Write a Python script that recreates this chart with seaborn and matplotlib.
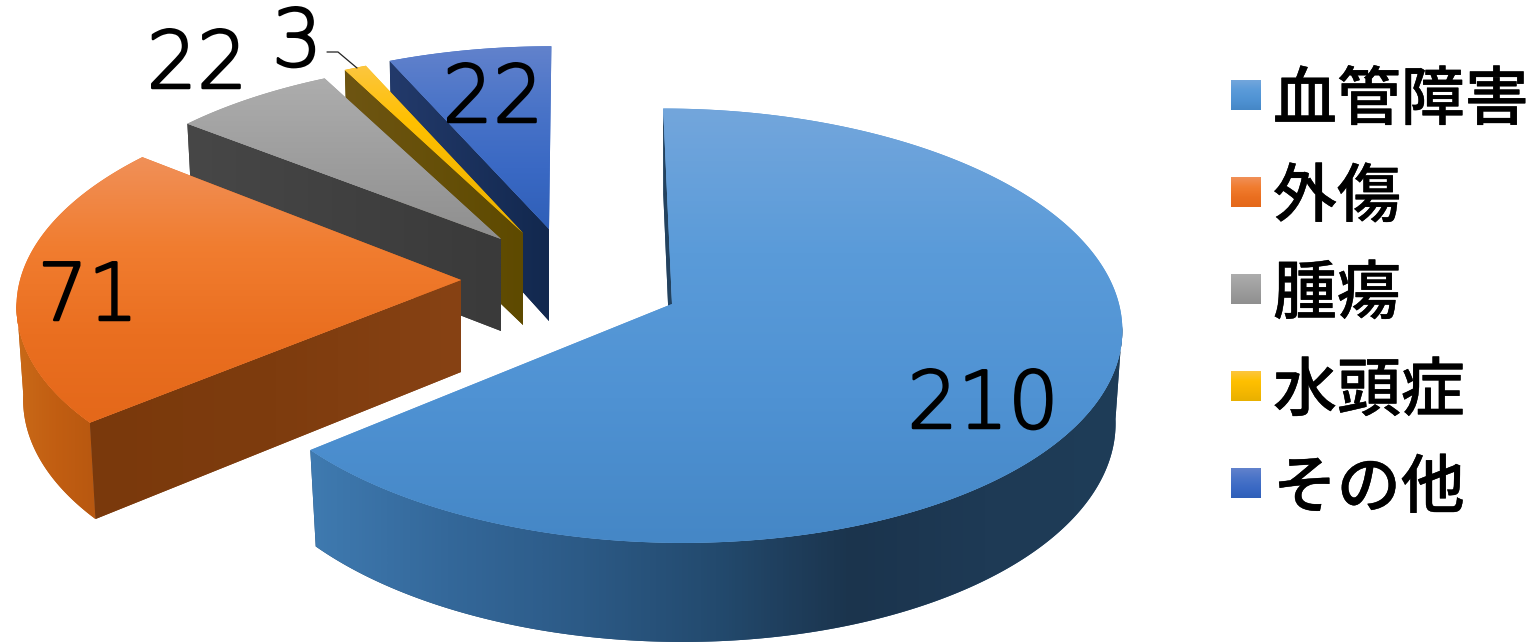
import numpy as np
import matplotlib
matplotlib.use("Agg")
import matplotlib.pyplot as plt
import matplotlib.patheffects as pe
from matplotlib.patches import Polygon
import seaborn as sns

# Chart data
categories = ["血管障害", "外傷", "腫瘍", "水頭症", "その他"]
values = [210, 71, 22, 3, 22]

# Slice placement on the canvas (exploded pie, pixels)
apex_x = [672, 461, 501, 523, 549]
apex_y = [304, 280, 239, 233, 229]
radius_x = [447, 441, 431, 431, 431]
radius_y = [215, 210, 197, 200, 201]
label_x = [983, 88, 197, 297, 493]
label_y = [406, 298, 66, 44, 100]

# Colours: top face, outer wall, cut wall
top_colors = [
    ["#73a6dc", "#5a9bd9", "#4f92d3", "#4587c6"],
    ["#f09058", "#f17d30", "#ea6f20", "#e4681a"],
    ["#adadad", "#a3a3a3", "#999999", "#8f8f8f"],
    ["#fcc640", "#ffc000", "#f5b800", "#e8b000"],
    ["#6282cc", "#4a74c8", "#3a69c4", "#2f5fb8"],
]
wall_colors = [
    ["#3f7ab0", "#34689a", "#2c5a86", "#234a6e", "#1b344d", "#1e3a55", "#1f3d58"],
    ["#c96a18", "#c25e12", "#b85810"],
    ["#444444", "#3a3a3a"],
    ["#6e5512", "#5a4700"],
    ["#233a6b", "#12284e"],
]
cut_colors = [
    ["#23425f", "#23425f"],
    ["#7a390c", "#7e3c0e", "#874214"],
    ["#474747", "#3a3a3a"],
    ["#6e5512", "#5e4a00"],
    ["#233a6b", "#12284e"],
]

sns.set_theme(style="white")
plt.rcParams["font.family"] = ["Noto Sans CJK JP", "DejaVu Sans"]

fig = plt.figure(figsize=(15.38, 6.42), dpi=100)
ax = fig.add_axes([0, 0, 1, 1])
ax.axis("off")

PERSPECTIVE = 0.10
VANISH_X = 575
DEPTH = 92
layer = 1


def rim(i, angles):
    # top and bottom rim points of a slice for clockwise angles from 12 o'clock
    t = np.radians(angles)
    w = 1 + PERSPECTIVE * np.cos(t)
    dx = radius_x[i] * np.sin(t) / w + (apex_x[i] - VANISH_X) * (1 / w - 1)
    dy = -radius_y[i] * np.cos(t) / w
    top = np.column_stack([apex_x[i] + dx, apex_y[i] + dy])
    bottom = np.column_stack(
        [apex_x[i] + dx * 0.985, apex_y[i] + dy + DEPTH / w**0.7]
    )
    return top, bottom


def fill_gradient(points, stops, vertical):
    # gradient image clipped to a polygon, stacked in drawing order
    global layer
    cmap = sns.blend_palette(stops, as_cmap=True)
    x0, y0 = points.min(axis=0)
    x1, y1 = points.max(axis=0)
    ramp = np.linspace(0, 1, 256)
    ramp = ramp.reshape(-1, 1) if vertical else ramp.reshape(1, -1)
    outline = Polygon(
        points, closed=True, fc=stops[len(stops) // 2], ec="none", zorder=layer
    )
    ax.add_patch(outline)
    image = ax.imshow(
        ramp,
        cmap=cmap,
        extent=(x0, x1, y1, y0),
        aspect="auto",
        interpolation="bilinear",
        vmin=0,
        vmax=1,
        zorder=layer + 0.5,
    )
    image.set_clip_path(outline)
    layer += 1


# Slice angles come from the values
shares = np.array(values) / sum(values) * 360
ends = np.cumsum(shares)
starts = ends - shares

# Back slices first, the big one last
for i in [4, 3, 2, 1, 0]:
    angles = np.linspace(starts[i], ends[i], 400)
    top, bottom = rim(i, angles)
    apex_top = np.array([[apex_x[i], apex_y[i]]])
    apex_bottom = np.array([[apex_x[i], apex_y[i] + DEPTH]])

    # outer wall, only the part that faces the viewer
    front = np.cos(np.radians(angles)) < -PERSPECTIVE
    if front.any():
        fill_gradient(
            np.vstack([top[front], bottom[front][::-1]]), wall_colors[i], False
        )

    # cut wall facing the viewer
    cut = np.vstack([apex_top, top[:1], bottom[:1], apex_bottom])
    fill_gradient(cut, cut_colors[i], False)

    # top face
    fill_gradient(np.vstack([apex_top, top]), top_colors[i], True)

# Value labels
for i, value in enumerate(values):
    ax.text(
        label_x[i],
        label_y[i],
        str(value),
        fontsize=57,
        family="DejaVu Sans",
        fontweight="ultralight",
        color="black",
        ha="center",
        va="center",
        zorder=100,
        path_effects=[pe.withStroke(linewidth=1.8, foreground="black")],
    )

# Leader line for the small slice
ax.plot([327, 338, 357], [52, 52, 68], color="#222222", lw=0.9, zorder=100)

# Legend
for i, name in enumerate(categories):
    y = 95 + 97 * i
    swatch = np.array(
        [[1231, y - 15], [1261, y - 15], [1261, y + 15], [1231, y + 15]], dtype=float
    )
    fill_gradient(swatch, top_colors[i], True)
    ax.text(
        1273,
        y + 6,
        name,
        fontsize=46,
        fontweight="medium",
        color="black",
        ha="left",
        va="center",
        zorder=100,
        path_effects=[pe.withStroke(linewidth=0.3, foreground="black")],
    )

ax.set_xlim(0, 1538)
ax.set_ylim(642, 0)

plt.savefig("out.png", dpi=100)
